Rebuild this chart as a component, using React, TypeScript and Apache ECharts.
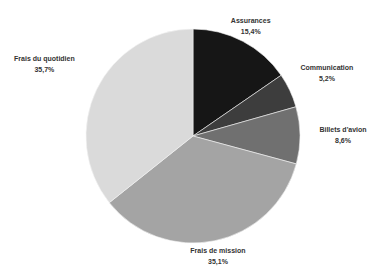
import React, { useEffect, useRef } from "react";
import * as echarts from "echarts";

const categories = ["Assurances", "Communication", "Billets d'avion", "Frais de mission", "Frais du quotidien"];
const values = [15.4, 5.2, 8.6, 35.1, 35.7];
const valueLabels = ["15,4%", "5,2%", "8,6%", "35,1%", "35,7%"];
const colors = ["#161616", "#3d3d3d", "#707070", "#a4a4a4", "#dadada"];
const labelDistances = [124, 148, 150, 123, 165];

export default function App() {
  const ref = useRef<HTMLDivElement>(null);
  useEffect(() => {
    document.body.style.margin = "0";
    const chart = echarts.init(ref.current!, null, { renderer: "svg" });
    const cx = 193;
    const cy = 136;
    const total = values.reduce((a, b) => a + b, 0);
    const mids: number[] = [];
    let acc = 0;
    values.forEach((v) => {
      mids.push(((acc + v / 2) / total) * Math.PI * 2);
      acc += v;
    });
    chart.setOption({
      animation: false,
      backgroundColor: "#ffffff",
      series: [
        {
          type: "pie",
          center: [cx, cy],
          radius: [0, 107],
          startAngle: 90,
          clockwise: true,
          data: categories.map((c, i) => ({
            name: c,
            value: values[i],
            itemStyle: { color: colors[i] },
          })),
          itemStyle: { borderColor: "#f4f4f4", borderWidth: 0.6 },
          label: {
            show: true,
            position: "outside",
            formatter: (p: any) => `${p.name}\n${valueLabels[p.dataIndex]}`,
            fontFamily: "Liberation Sans, Arial, sans-serif",
            fontSize: 7,
            fontWeight: "bold",
            lineHeight: 11,
            color: "#333333",
            align: "center",
            overflow: "none",
            width: 120,
          },
          labelLine: { show: false },
          labelLayout: (params: any) => {
            const i = params.dataIndex;
            const a = mids[i];
            const d = labelDistances[i];
            return {
              x: cx + d * Math.sin(a),
              y: cy - d * Math.cos(a),
              align: "center",
              verticalAlign: "middle",
            };
          },
        },
      ],
    });
    return () => chart.dispose();
  }, []);
  return <div ref={ref} style={{ width: 368, height: 266 }} />;
}
